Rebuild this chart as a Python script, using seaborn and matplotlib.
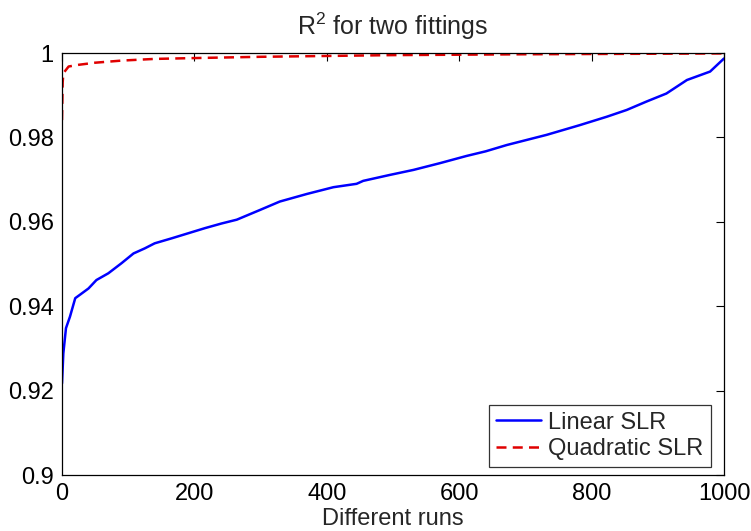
import matplotlib
matplotlib.use("Agg")
import matplotlib.pyplot as plt
import seaborn as sns
import pandas as pd

# ---- data ----
linear_x = [0, 2, 6, 12, 20, 27, 40, 52, 70, 90, 108, 125, 140, 166, 191, 216, 241,
            264, 299, 329, 370, 410, 445, 455, 495, 531, 571, 611, 640, 672, 732,
            782, 823, 853, 883, 913, 944, 979, 1000]
linear_y = [0.9217, 0.9288, 0.9348, 0.9375, 0.9419, 0.9427, 0.9442, 0.9462, 0.9478,
            0.9502, 0.9525, 0.9537, 0.9549, 0.9561, 0.9573, 0.9585, 0.9596,
            0.9605, 0.9628, 0.9648, 0.9666, 0.9682, 0.9690, 0.9697, 0.9711, 0.9723,
            0.9739, 0.9756, 0.9767, 0.9782, 0.9806, 0.9829, 0.9849, 0.9865, 0.9885,
            0.9904, 0.9936, 0.9956, 0.9987]

quad_x = [0, 1, 2, 10, 25, 50, 90, 140, 200, 300, 400, 500, 700, 850, 1000]
quad_y = [0.9841, 0.9930, 0.9952, 0.9968, 0.9972, 0.9977, 0.9982, 0.9986, 0.9988,
          0.9991, 0.9993, 0.9995, 0.9997, 0.9998, 0.9999]

x_ticks = [0, 200, 400, 600, 800, 1000]
y_ticks = [0.9, 0.92, 0.94, 0.96, 0.98, 1.0]
y_tick_labels = ["0.9", "0.92", "0.94", "0.96", "0.98", "1"]
series_names = ["Linear SLR", "Quadratic SLR"]

sns.set_style("white")
plt.rcParams["font.family"] = ["Liberation Sans", "DejaVu Sans"]
plt.rcParams["mathtext.fontset"] = "custom"
plt.rcParams["mathtext.rm"] = "Liberation Sans"

df_lin = pd.DataFrame({"run": linear_x, "r2": linear_y})
df_quad = pd.DataFrame({"run": quad_x, "r2": quad_y})

fig = plt.figure(figsize=(7.51, 5.31), dpi=100)
ax = fig.add_axes([62 / 751, 56 / 531, 662 / 751, 422 / 531])

sns.lineplot(data=df_lin, x="run", y="r2", ax=ax, color="#0000ff", lw=1.8,
             label=series_names[0])
sns.lineplot(data=df_quad, x="run", y="r2", ax=ax, color="#e00000", lw=1.8,
             linestyle=(0, (4, 2.5)), label=series_names[1])

ax.set_xlim(0, 1000)
ax.set_ylim(0.9, 1.0)
ax.set_xticks(x_ticks)
ax.set_xticklabels([str(t) for t in x_ticks])
ax.set_yticks(y_ticks)
ax.set_yticklabels(y_tick_labels)
ax.tick_params(direction="in", length=6, width=0.8, top=True, right=True,
               labelsize=17, colors="black", pad=6)
for s in ax.spines.values():
    s.set_visible(True)
    s.set_color("black")
    s.set_linewidth(0.9)

ax.set_xlabel("Different runs", fontsize=17, labelpad=2)
ax.set_ylabel("")
ax.set_title("R$^2$ for two fittings", fontsize=18, pad=13)

leg = ax.legend(loc="lower right", bbox_to_anchor=(0.98, 0.018), fontsize=17,
                frameon=True, fancybox=False, edgecolor="black", handlelength=1.9,
                handletextpad=0.3, borderpad=0.3, labelspacing=0.2, borderaxespad=0)
leg.get_frame().set_linewidth(0.9)

fig.savefig("out.png", dpi=100, facecolor="white")
